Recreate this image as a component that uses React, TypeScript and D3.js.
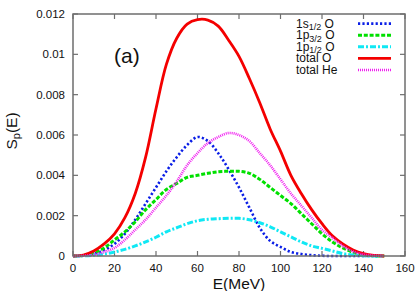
import * as d3 from 'd3';

const WIDTH = 415;
const HEIGHT = 291;
const MARGIN = { top: 14, right: 10, bottom: 35, left: 73 };

// energy grid (MeV) shared by all curves
const energies = [
  0, 5, 10, 15, 20, 25, 30, 35, 40, 45, 50, 55, 60, 65, 70, 75, 80, 85, 90, 95,
  100, 105, 110, 115, 120, 125, 130, 135, 140, 145, 150,
];

const s12O = [
  0, 0.00002, 0.0001, 0.0003, 0.0006, 0.0011, 0.0018, 0.0026, 0.0034, 0.0042,
  0.0049, 0.0055, 0.0059, 0.0057, 0.0051, 0.0043, 0.0034, 0.0024, 0.0014,
  0.00075, 0.00045, 0.0002, 0.0001, 0.00004, 0.00001, 0, 0, 0, 0, 0, 0,
];
const p32O = [
  0, 0.00003, 0.00015, 0.0004, 0.0008, 0.0012, 0.0017, 0.0023, 0.0028, 0.0033,
  0.0036, 0.0039, 0.004, 0.0041, 0.00418, 0.0042, 0.0042, 0.0041, 0.0038,
  0.0034, 0.003, 0.0026, 0.0021, 0.0016, 0.0011, 0.0007, 0.0004, 0.00018,
  0.00006, 0.00001, 0,
];
const p12O = [
  0, 0.00001, 0.00004, 0.0001, 0.0002, 0.00033, 0.0005, 0.0007, 0.00093,
  0.0012, 0.0014, 0.0016, 0.00175, 0.00182, 0.00185, 0.00187, 0.00187, 0.0018,
  0.00165, 0.00145, 0.0012, 0.00095, 0.0007, 0.0005, 0.00038, 0.00025, 0.00012,
  0.00005, 0.00001, 0, 0,
];
const totalO = [
  0, 0.00005, 0.00025, 0.0006, 0.0011, 0.0019, 0.0031, 0.0049, 0.0073, 0.0095,
  0.0108, 0.0115, 0.01172, 0.0117, 0.0114, 0.0107, 0.0099, 0.0088, 0.0076,
  0.0063, 0.0052, 0.004, 0.0031, 0.0023, 0.0016, 0.001, 0.0006, 0.0003, 0.00012,
  0.00003, 0,
];
const totalHe = [
  0, 0.00001, 0.00006, 0.0002, 0.0004, 0.0008, 0.0013, 0.0018, 0.0024, 0.003,
  0.0037, 0.0045, 0.0051, 0.0056, 0.0059, 0.0061, 0.006, 0.0057, 0.0051,
  0.0045, 0.0038, 0.0031, 0.0025, 0.0019, 0.0013, 0.0009, 0.0005, 0.00022,
  0.00008, 0.00002, 0,
];

const xTicks = [0, 20, 40, 60, 80, 100, 120, 140, 160];
const yTicks = [0, 0.002, 0.004, 0.006, 0.008, 0.01, 0.012];
const yTickLabels = ['0', '0.002', '0.004', '0.006', '0.008', '0.01', '0.012'];

type Series = {
  name: string;
  sub?: string;
  tail: string;
  values: number[];
  color: string;
  width: number;
  dash?: string;
};

const series: Series[] = [
  { name: '1s', sub: '1/2', tail: ' O', values: s12O, color: '#0a1ee6', width: 2.6, dash: '2.2,2.2' },
  { name: '1p', sub: '3/2', tail: ' O', values: p32O, color: '#00e000', width: 3, dash: '4,1.8' },
  { name: '1p', sub: '1/2', tail: ' O', values: p12O, color: '#10e8f4', width: 3, dash: '6,2,2,2' },
  { name: 'total O', tail: '', values: totalO, color: '#f40000', width: 2.8 },
  { name: 'total He', tail: '', values: totalHe, color: '#f020f0', width: 2.6, dash: '1,1' },
];

const FONT = '"Liberation Sans", Arial, sans-serif';
const TEXT = '#111';
const AXIS = '#6e6e6e';

export default function App() {
  const x = d3
    .scaleLinear()
    .domain([0, 160])
    .range([MARGIN.left, WIDTH - MARGIN.right]);
  const y = d3
    .scaleLinear()
    .domain([0, 0.012])
    .range([HEIGHT - MARGIN.bottom, MARGIN.top]);

  const line = d3
    .line<[number, number]>()
    .x((d) => x(d[0]))
    .y((d) => Math.min(y(d[1]), y(0)))
    .curve(d3.curveCatmullRom.alpha(0.5));

  const x0 = x(0);
  const x1 = x(160);
  const y0 = y(0);
  const y1 = y(0.012);
  const TICK = 5;

  const legendX = 296;
  const sampleX0 = 358;
  const sampleX1 = 391;
  const legendY0 = 27.6;
  const legendStep = 11.6;

  return (
    <div style={{ position: 'absolute', left: 0, top: 0 }}>
      <svg width={WIDTH} height={HEIGHT} style={{ display: 'block', background: '#fff' }}>
        {/* ticks, mirrored on all sides, pointing inward */}
        {xTicks.map((t) => (
          <g key={'x' + t}>
            <line x1={x(t)} x2={x(t)} y1={y0} y2={y0 - TICK} stroke={AXIS} strokeWidth={1.2} />
            <line x1={x(t)} x2={x(t)} y1={y1} y2={y1 + TICK} stroke={AXIS} strokeWidth={1.2} />
            <text
              x={x(t)}
              y={y0 + 16}
              textAnchor="middle"
              fontFamily={FONT}
              fontSize={11.5}
              fill={TEXT}
            >
              {t}
            </text>
          </g>
        ))}
        {yTicks.map((t, i) => (
          <g key={'y' + t}>
            <line x1={x0} x2={x0 + TICK} y1={y(t)} y2={y(t)} stroke={AXIS} strokeWidth={1.2} />
            <line x1={x1} x2={x1 - TICK} y1={y(t)} y2={y(t)} stroke={AXIS} strokeWidth={1.2} />
            <text
              x={x0 - 8}
              y={y(t) + 4}
              textAnchor="end"
              fontFamily={FONT}
              fontSize={11.5}
              fill={TEXT}
            >
              {yTickLabels[i]}
            </text>
          </g>
        ))}

        {/* curves */}
        {series.map((s, i) => (
          <path
            key={i}
            d={line(energies.map((e, j) => [e, s.values[j]] as [number, number])) ?? ''}
            fill="none"
            stroke={s.color}
            strokeWidth={s.width}
            strokeDasharray={s.dash}
          />
        ))}

        <rect
          x={x0}
          y={y1}
          width={x1 - x0}
          height={y0 - y1}
          fill="none"
          stroke={AXIS}
          strokeWidth={1.5}
        />

        {/* legend */}
        {series.map((s, i) => {
          const by = legendY0 + i * legendStep;
          return (
            <g key={'l' + i}>
              <text x={legendX} y={by} fontFamily={FONT} fontSize={12} fill={TEXT}>
                {s.name}
                {s.sub && (
                  <tspan fontSize={9} dy={2.5}>
                    {s.sub}
                  </tspan>
                )}
                {s.sub ? <tspan dy={-2.5}>{s.tail}</tspan> : s.tail}
              </text>
              <line
                x1={sampleX0}
                x2={sampleX1}
                y1={by - 4}
                y2={by - 4}
                stroke={s.color}
                strokeWidth={s.width}
                strokeDasharray={s.dash}
              />
            </g>
          );
        })}

        <text x={114} y={63} fontFamily={FONT} fontSize={21} fill={TEXT}>
          (a)
        </text>

        <text
          x={(x0 + x1) / 2}
          y={289}
          textAnchor="middle"
          fontFamily={FONT}
          fontSize={15.5}
          fill={TEXT}
        >
          E(MeV)
        </text>
        <text
          transform={`translate(17, ${131}) rotate(-90)`}
          textAnchor="middle"
          fontFamily={FONT}
          fontSize={15.5}
          fill={TEXT}
        >
          S
          <tspan fontSize={11} dy={3}>
            p
          </tspan>
          <tspan dy={-3}>(E)</tspan>
        </text>
      </svg>
    </div>
  );
}
